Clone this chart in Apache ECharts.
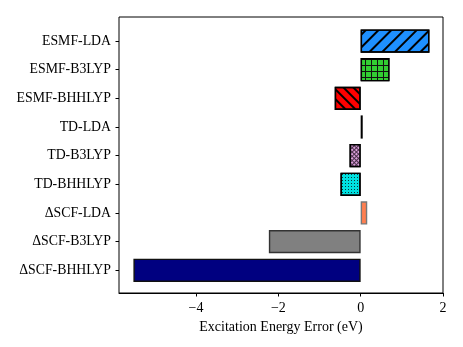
<!DOCTYPE html>
<html>
<head>
<meta charset="utf-8">
<script src="https://cdn.jsdelivr.net/npm/echarts@6/dist/echarts.min.js"></script>
<style>
    html, body { margin: 0; padding: 0; background: #fff; }
    #chart { width: 463px; height: 347px; }
</style>
</head>
<body>
<div id="chart"></div>
<script>
// methods, top to bottom
const methods = ['ESMF-LDA', 'ESMF-B3LYP', 'ESMF-BHHLYP', 'TD-LDA', 'TD-B3LYP', 'TD-BHHLYP', 'ΔSCF-LDA', 'ΔSCF-B3LYP', 'ΔSCF-BHHLYP'];
// excitation energy error (eV)
const errors = [1.67, 0.70, -0.63, 0.05, -0.27, -0.49, 0.16, -2.23, -5.52];
const xTicks = [-4, -2, 0, 2];

const FONT = "'Liberation Serif', 'Times New Roman', serif";

// fill + hatch for each bar
const barStyles = [
    { color: '#1E90FF', borderColor: '#000', decal: { symbol: 'rect', symbolKeepAspect: false, color: '#000', dashArrayX: [1, 0], dashArrayY: [1.1, 6.5], rotation: -Math.PI / 4 } },
    { color: '#32CD32', borderColor: '#000', decal: { symbol: 'rect', symbolKeepAspect: false, color: '#32CD32', backgroundColor: '#111', dashArrayX: [4.3, 1], dashArrayY: [4.3, 1] } },
    { color: '#FF0000', borderColor: '#000', decal: { symbol: 'rect', symbolKeepAspect: false, color: '#000', dashArrayX: [1, 0], dashArrayY: [1.2, 4.8], rotation: Math.PI / 4 } },
    { color: '#000', borderColor: '#000' },
    { color: '#DA9FDA', borderColor: '#000', decal: { symbol: 'rect', symbolKeepAspect: false, color: '#DA9FDA', backgroundColor: '#4a304a', dashArrayX: [1.6, 0.8], dashArrayY: [1.6, 0.8], rotation: Math.PI / 4 } },
    { color: '#00E0E0', borderColor: '#000', decal: { symbol: 'rect', symbolKeepAspect: false, color: '#0a3a3a', dashArrayX: [0.9, 1.3], dashArrayY: [0.9, 1.3] } },
    { color: '#FF7F50', borderColor: '#777' },
    { color: '#808080', borderColor: '#333' },
    { color: '#000080', borderColor: '#111' }
];

const chart = echarts.init(document.getElementById('chart'), null, { renderer: 'canvas' });

const option = {
    animation: false,
    backgroundColor: '#fff',
    textStyle: { fontFamily: FONT },
    grid: [
        // frame
        { left: 119, right: 20, top: 17, bottom: 54, show: true, borderColor: '#000', borderWidth: 1 },
        // bars, with matplotlib style margins inside the frame
        { left: 119, right: 20, top: 26.7, bottom: 62.4 }
    ],
    xAxis: [{
        gridIndex: 0,
        type: 'value',
        min: -5.87,
        max: 2.0,
        name: 'Excitation Energy Error (eV)',
        nameLocation: 'middle',
        nameGap: 21,
        nameTextStyle: { fontFamily: FONT, fontSize: 14, color: '#000' },
        splitLine: { show: false },
        axisLine: { show: true, onZero: false, lineStyle: { color: '#000', width: 1 } },
        axisTick: { show: true, length: 3.5, customValues: xTicks, lineStyle: { color: '#000' } },
        axisLabel: {
            customValues: xTicks,
            fontFamily: FONT,
            fontSize: 14,
            color: '#000',
            margin: 8.5,
            formatter: v => String(v).replace('-', '\u2212')
        }
    }, {
        gridIndex: 1,
        type: 'value',
        min: -5.87,
        max: 2.0,
        show: false
    }],
    yAxis: [{
        gridIndex: 0,
        type: 'value',
        min: 0,
        max: 1,
        show: false
    }, {
        gridIndex: 1,
        type: 'category',
        inverse: true,
        data: methods,
        axisLine: { show: false, onZero: false },
        axisTick: { show: true, alignWithLabel: true, length: 3.5, lineStyle: { color: '#000' } },
        axisLabel: { fontFamily: FONT, fontSize: 13.8, color: '#000', margin: 8 },
        splitLine: { show: false }
    }],
    series: [{
        type: 'bar',
        xAxisIndex: 1,
        yAxisIndex: 1,
        barWidth: '81%',
        data: errors.map((v, i) => ({
            value: v,
            itemStyle: Object.assign({ borderWidth: 1.4 }, barStyles[i])
        }))
    }]
};

chart.setOption(option);
</script>
</body>
</html>
